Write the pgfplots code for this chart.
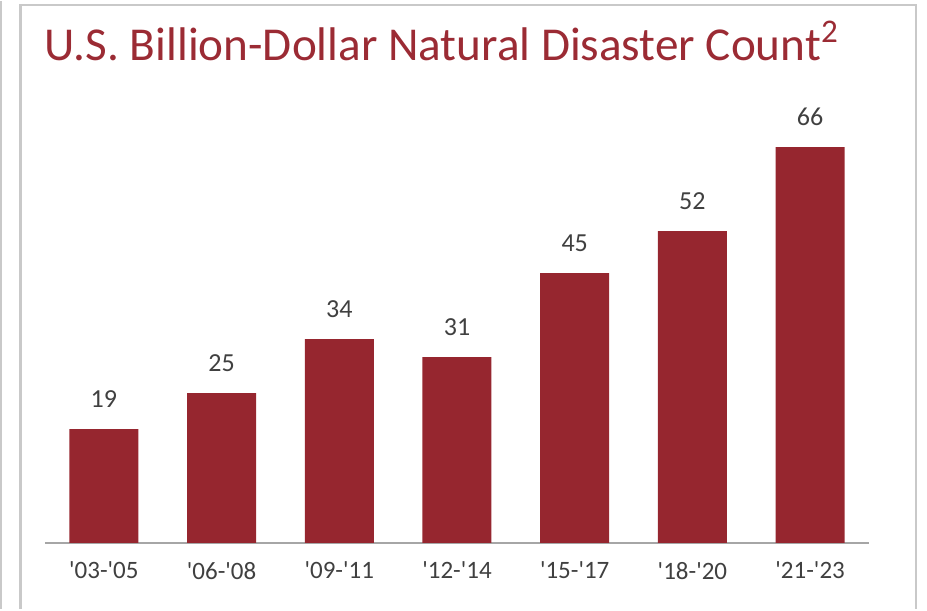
\documentclass[border=0pt]{standalone}
\usepackage{pgfplots}
\pgfplotsset{compat=1.18}
\usepackage{fontspec}
\setmainfont{Carlito}
\definecolor{barred}{HTML}{96262F}
\definecolor{titlered}{HTML}{9B2B34}
\definecolor{txt}{HTML}{404040}
\definecolor{axisgray}{HTML}{A6A6A6}
\definecolor{boxgray}{HTML}{C9C9C9}
\newcommand\q{\textquotesingle}
\begin{document}
\begin{tikzpicture}
% page frame: 927x608 px at 0.5pt per px
\path (0,0) rectangle (463.5pt,304pt);
\draw[boxgray, line width=1pt] (0.5pt,0) -- (0.5pt,304pt);
\draw[boxgray, line width=1.3pt] (10.3pt,0) -- (10.3pt,302pt) -- (458pt,302pt) -- (458pt,0);
\node[anchor=base west, inner sep=0, text=titlered, font=\fontsize{23.6}{28}\selectfont]
  at (22pt,274pt) {U.S. Billion-Dollar Natural Disaster Count\textsuperscript{2}};
\begin{axis}[
  at={(22.5pt,33pt)}, anchor=south west,
  width=412pt, height=225pt, scale only axis,
  xmin=-0.5, xmax=6.5, ymin=0, ymax=75,
  axis lines*=left, axis y line=none,
  axis line style={axisgray, line width=0.8pt},
  x axis line style={-},
  xtick=data, major tick length=0pt,
  xticklabels={\q03-\q05,\q06-\q08,\q09-\q11,\q12-\q14,\q15-\q17,\q18-\q20,\q21-\q23},
  xticklabel style={text=txt, font=\fontsize{12.5}{15}\selectfont, yshift=-6pt},
  /pgf/number format/assume math mode=true,
  ybar, bar width=34.5pt,
  nodes near coords,
  every node near coord/.append style={text=txt, font=\fontsize{13}{15}\selectfont, yshift=7pt},
  clip=false,
]
\addplot[fill=barred, draw=none] coordinates {(0,19) (1,25) (2,34) (3,31) (4,45) (5,52) (6,66)};
\end{axis}
\end{tikzpicture}
\end{document}
